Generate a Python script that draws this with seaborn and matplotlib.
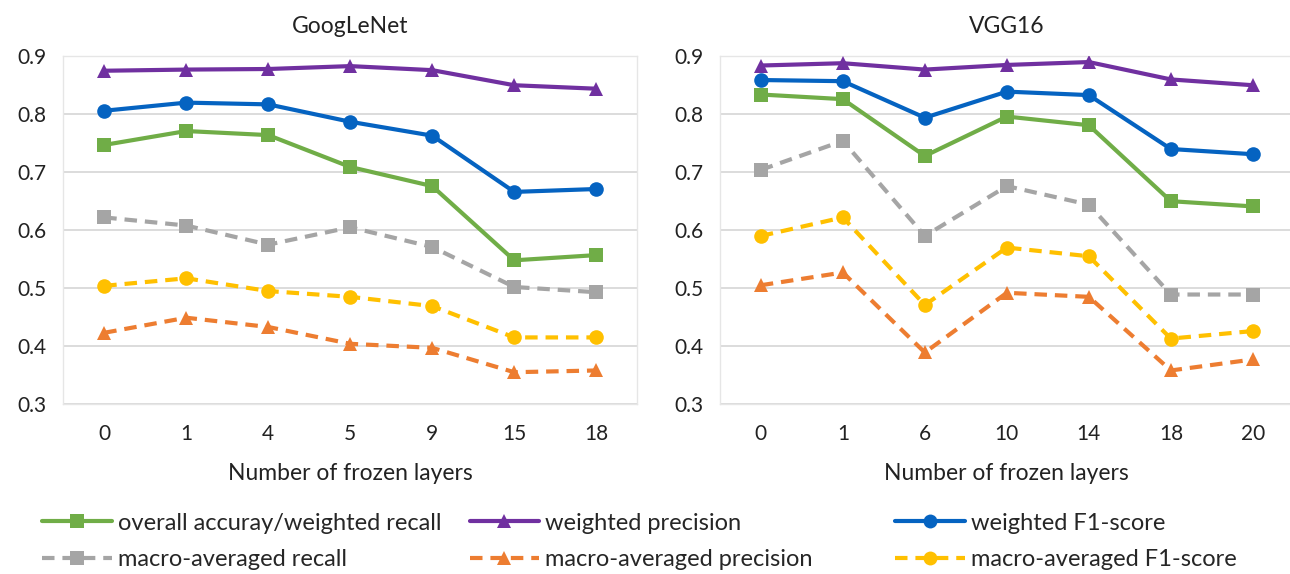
import matplotlib
matplotlib.use("Agg")
import matplotlib.pyplot as plt
from matplotlib.lines import Line2D
import seaborn as sns
import pandas as pd

# frozen layer settings (categorical x)
googlenet_layers = ["0", "1", "4", "5", "9", "15", "18"]
vgg16_layers = ["0", "1", "6", "10", "14", "18", "20"]

metrics = ["overall accuray/weighted recall", "weighted precision", "weighted F1-score",
           "macro-averaged recall", "macro-averaged precision", "macro-averaged F1-score"]

# GoogLeNet values
g_acc = [0.747, 0.771, 0.764, 0.709, 0.676, 0.548, 0.557]
g_wprec = [0.875, 0.877, 0.878, 0.883, 0.876, 0.850, 0.844]
g_wf1 = [0.806, 0.820, 0.817, 0.787, 0.763, 0.666, 0.671]
g_mrec = [0.622, 0.608, 0.575, 0.605, 0.571, 0.502, 0.493]
g_mprec = [0.423, 0.449, 0.433, 0.404, 0.397, 0.355, 0.358]
g_mf1 = [0.504, 0.517, 0.495, 0.485, 0.469, 0.415, 0.415]

# VGG16 values
v_acc = [0.834, 0.826, 0.728, 0.796, 0.781, 0.650, 0.641]
v_wprec = [0.884, 0.888, 0.877, 0.885, 0.890, 0.860, 0.850]
v_wf1 = [0.859, 0.857, 0.794, 0.839, 0.833, 0.740, 0.731]
v_mrec = [0.704, 0.754, 0.590, 0.676, 0.644, 0.489, 0.489]
v_mprec = [0.505, 0.527, 0.389, 0.492, 0.485, 0.358, 0.377]
v_mf1 = [0.590, 0.622, 0.471, 0.570, 0.555, 0.413, 0.426]

colors = ["#70AD47", "#7030A0", "#0563C1", "#A5A5A5", "#ED7D31", "#FFC000"]
markers = ["s", "^", "o", "s", "^", "o"]
dash_pat = (3.0, 1.9)
dashes = ["", "", "", dash_pat, dash_pat, dash_pat]

palette = dict(zip(metrics, colors))
marker_map = dict(zip(metrics, markers))
dash_map = dict(zip(metrics, dashes))


def make_df(layers, cols):
    rows = []
    for name, vals in zip(metrics, cols):
        for i, v in enumerate(vals):
            rows.append({"pos": i, "layer": layers[i], "metric": name, "value": v})
    return pd.DataFrame(rows)


df_g = make_df(googlenet_layers, [g_acc, g_wprec, g_wf1, g_mrec, g_mprec, g_mf1])
df_v = make_df(vgg16_layers, [v_acc, v_wprec, v_wf1, v_mrec, v_mprec, v_mf1])

sns.set_theme(style="white")
plt.rcParams["font.family"] = ["Lato", "DejaVu Sans"]
FS = 15
FS_LAB = 16.5
FS_LEG = 17

fig = plt.figure(figsize=(12.9, 5.74), dpi=100)
ax1 = fig.add_axes([0.049, 0.296, 0.445, 0.606])
ax2 = fig.add_axes([0.558, 0.296, 0.445, 0.606])

for ax, df, layers, title in [(ax1, df_g, googlenet_layers, "GoogLeNet"),
                              (ax2, df_v, vgg16_layers, "VGG16")]:
    sns.lineplot(data=df, x="pos", y="value", hue="metric", style="metric",
                 palette=palette, markers=marker_map, dashes=dash_map,
                 linewidth=3, markersize=10.5, markeredgewidth=0,
                 legend=False, ax=ax, zorder=3)
    ax.set_ylim(0.3, 0.9)
    ax.set_yticks([0.3, 0.4, 0.5, 0.6, 0.7, 0.8, 0.9])
    ax.set_yticklabels(["0.3", "0.4", "0.5", "0.6", "0.7", "0.8", "0.9"])
    ax.set_xlim(-0.5, 6.5)
    ax.set_xticks(range(len(layers)))
    ax.set_xticklabels(layers)
    ax.grid(axis="y", color="#D9D9D9", linewidth=1.3, zorder=0)
    ax.set_axisbelow(True)
    for s in ax.spines.values():
        s.set_color("#E6E6E6")
        s.set_linewidth(1.0)
    ax.tick_params(axis="both", length=0, labelsize=FS, colors="#222222")
    ax.tick_params(axis="x", pad=14)
    ax.tick_params(axis="y", pad=12)
    ax.set_xlabel("Number of frozen layers", fontsize=FS_LAB, color="#222222", labelpad=14)
    ax.set_ylabel("")
    ax.set_title(title, fontsize=FS_LAB, color="#222222", pad=17)

handles = []
for name, c, m, d in zip(metrics, colors, markers, dashes):
    ls = "-" if d == "" else (0, d)
    handles.append(Line2D([], [], color=c, marker=m, linestyle=ls, linewidth=3,
                          markersize=10, markeredgewidth=0, label=name))

# three legend columns, two rows each
col_x = [0.0326, 0.364, 0.694]
for k in range(3):
    fig.legend(handles=[handles[k], handles[k + 3]], loc="upper left",
               bbox_to_anchor=(col_x[k], 0.107), frameon=False, fontsize=FS_LEG,
               handlelength=2.95, handletextpad=0.25, labelspacing=0.66,
               borderaxespad=0, borderpad=0)

fig.savefig("out.png", dpi=100, facecolor="white")
